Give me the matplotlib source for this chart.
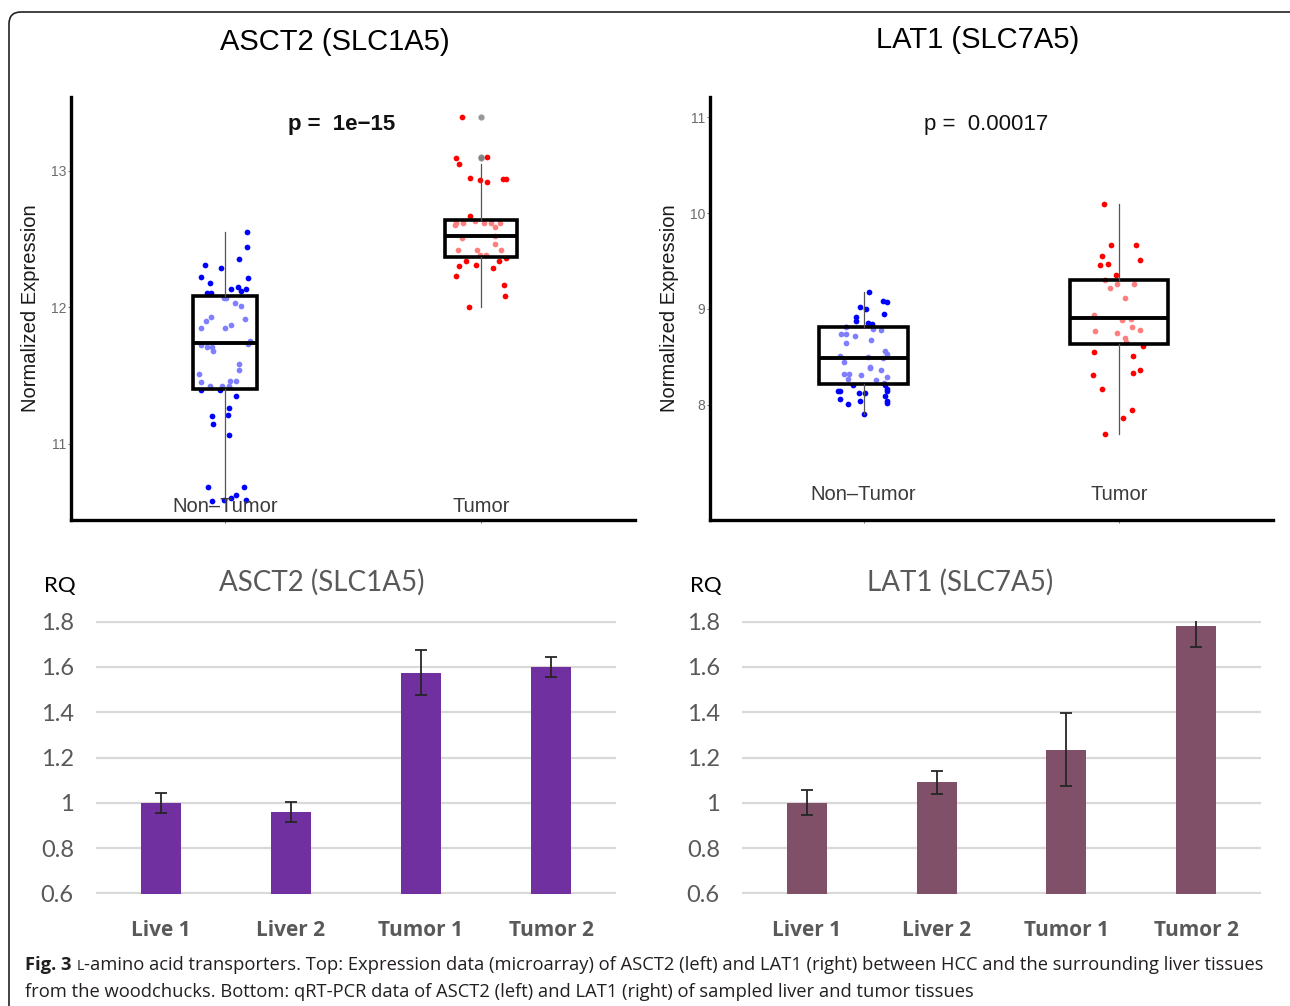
import matplotlib
matplotlib.use("Agg")
import matplotlib.pyplot as plt
from matplotlib import font_manager
from matplotlib.patches import FancyBboxPatch
from matplotlib.transforms import IdentityTransform, blended_transform_factory


def pick_font(names):
    for n in names:
        try:
            font_manager.findfont(n, fallback_to_default=False)
            return n
        except Exception:
            pass
    return "DejaVu Sans"


SANS = pick_font(["Liberation Sans", "Arial", "DejaVu Sans"])
NARROW = pick_font(["Liberation Sans Narrow", "Liberation Sans"])
XLS = pick_font(["Lato", "Open Sans", "DejaVu Sans"])
CAP = pick_font(["Open Sans", "Lato", "DejaVu Sans"])

# ---- microarray data, ASCT2 (SLC1A5) ----
asct2_nt = [12.55, 12.44, 12.35, 12.31, 12.29, 12.22, 12.21, 12.18, 12.15, 12.13,
            12.13, 12.12, 12.10, 12.10, 12.07, 12.07, 12.03, 12.01, 11.93, 11.90,
            11.91, 11.85, 11.87, 11.85, 11.75, 11.73, 11.72, 11.71, 11.71, 11.68,
            11.58, 11.54, 11.51, 11.45, 11.46, 11.46, 11.42, 11.42, 11.42, 11.39,
            11.39, 11.35, 11.26, 11.21, 11.20, 11.14, 11.06, 10.68, 10.68, 10.62,
            10.60, 10.58, 10.59, 10.59]
asct2_nt_dx = [0.087, 0.087, 0.055, -0.078, -0.013, -0.094, 0.091, -0.057, 0.052, 0.023,
               0.084, 0.065, -0.070, -0.053, -0.005, 0.003, 0.040, 0.065, -0.055, -0.075,
               0.079, -0.091, 0.023, 0.0, 0.099, 0.089, -0.091, -0.070, -0.049, -0.045,
               0.057, 0.057, -0.099, -0.094, 0.019, 0.044, -0.058, -0.010, 0.016, -0.094,
               -0.018, 0.044, 0.016, 0.011, -0.050, -0.045, 0.016, -0.066, 0.076, 0.044,
               0.024, -0.049, 0.081, -0.005]
asct2_t = [13.39, 13.09, 13.10, 13.05, 12.95, 12.93, 12.92, 12.94, 12.94, 12.67,
           12.62, 12.62, 12.63, 12.62, 12.62, 12.59, 12.62, 12.60, 12.52, 12.51,
           12.42, 12.42, 12.46, 12.38, 12.38, 12.42, 12.36, 12.34, 12.31, 12.30,
           12.29, 12.34, 12.23, 12.16, 12.08, 12.00]
asct2_t_dx = [-0.075, -0.097, 0.021, -0.086, -0.042, -0.005, 0.021, 0.086, 0.097, -0.045,
              -0.097, -0.070, -0.024, 0.011, 0.037, 0.053, 0.073, -0.102, 0.053, -0.076,
              -0.091, -0.016, 0.053, -0.005, 0.019, 0.076, 0.097, -0.060, -0.021, -0.086,
              0.045, 0.070, -0.097, 0.089, 0.094, -0.049]
asct2_q1 = [11.40, 12.37]
asct2_med = [11.74, 12.52]
asct2_q3 = [12.08, 12.64]
asct2_lo = [10.58, 12.00]
asct2_hi = [12.55, 13.05]
asct2_out = [[], [13.39, 13.09, 13.10]]

# ---- microarray data, LAT1 (SLC7A5) ----
lat1_nt = [9.18, 9.08, 9.07, 9.02, 9.00, 8.95, 8.92, 8.87, 8.85, 8.84,
           8.81, 8.79, 8.78, 8.74, 8.74, 8.72, 8.68, 8.65, 8.56, 8.53,
           8.51, 8.50, 8.49, 8.45, 8.40, 8.38, 8.36, 8.32, 8.32, 8.31,
           8.27, 8.29, 8.26, 8.23, 8.21, 8.21, 8.17, 8.15, 8.15, 8.15,
           8.12, 8.12, 8.09, 8.06, 8.04, 8.04, 8.02, 8.01, 7.90]
lat1_nt_dx = [0.021, 0.077, 0.093, -0.013, 0.008, 0.080, -0.029, -0.029, 0.019, 0.032,
              -0.069, 0.037, 0.067, -0.088, -0.067, -0.032, 0.029, -0.067, 0.085, 0.093,
              -0.093, 0.019, 0.075, -0.075, 0.027, 0.024, 0.069, -0.077, -0.056, -0.008,
              -0.061, 0.093, 0.049, 0.080, -0.043, 0.083, 0.093, -0.100, -0.093, 0.093,
              -0.016, 0.005, 0.085, -0.093, -0.013, 0.093, 0.093, -0.061, 0.0]
lat1_t = [10.09, 9.67, 9.67, 9.55, 9.51, 9.46, 9.47, 9.35, 9.30, 9.26,
          9.22, 9.26, 9.11, 8.94, 8.90, 8.89, 8.77, 8.75, 8.81, 8.78,
          8.70, 8.66, 8.61, 8.55, 8.51, 8.31, 8.33, 8.36, 8.17, 7.95,
          7.86, 7.70]
lat1_t_dx = [-0.059, -0.032, 0.064, -0.070, 0.081, -0.075, -0.046, -0.014, -0.056, -0.011,
             -0.035, 0.057, 0.021, -0.099, 0.045, 0.008, -0.096, -0.011, 0.048, 0.081,
             0.021, 0.026, 0.093, -0.099, 0.053, -0.104, 0.053, 0.081, -0.067, 0.048,
             0.013, -0.056]
lat1_q1 = [8.22, 8.63]
lat1_med = [8.49, 8.91]
lat1_q3 = [8.81, 9.30]
lat1_lo = [7.90, 7.70]
lat1_hi = [9.18, 10.09]
lat1_out = [[], []]

groups = ["Non\u2013Tumor", "Tumor"]

# ---- qRT-PCR data ----
asct2_samples = ["Live 1", "Liver 2", "Tumor 1", "Tumor 2"]
asct2_rq = [1.00, 0.96, 1.575, 1.60]
asct2_err = [0.043, 0.043, 0.10, 0.043]

lat1_samples = ["Liver 1", "Liver 2", "Tumor 1", "Tumor 2"]
lat1_rq = [1.00, 1.09, 1.235, 1.78]
lat1_err = [0.055, 0.05, 0.163, 0.09]

W, H = 1290, 1006
fig = plt.figure(figsize=(W / 100, H / 100), dpi=100)


def rect(l, t, r, b):
    return [l / W, 1 - b / H, (r - l) / W, (b - t) / H]


def box_panel(ax, nt, nt_dx, t, t_dx, q1, med, q3, lo, hi, out, ylim, yticks,
              widths, ptext, pbold, lab_y):
    ax.scatter([1 + d for d in nt_dx], nt, s=17, color="#0000FF", lw=0, zorder=2)
    ax.scatter([2 + d for d in t_dx], t, s=17, color="#FF0000", lw=0, zorder=2)
    stats = []
    for i in range(2):
        stats.append(dict(q1=q1[i], med=med[i], q3=q3[i], whislo=lo[i],
                          whishi=hi[i], fliers=out[i]))
    ax.bxp(stats, positions=[1, 2], widths=widths, patch_artist=True,
           showcaps=False, zorder=3,
           boxprops=dict(facecolor=(1, 1, 1, 0.5), edgecolor="black", linewidth=2.6),
           whiskerprops=dict(color="#555555", linewidth=0.9),
           medianprops=dict(color="black", linewidth=2.8),
           flierprops=dict(marker="o", markerfacecolor="#7f7f7f",
                           markeredgecolor="none", markersize=4.5, alpha=0.8))
    ax.set_xlim(0.4, 2.6)
    ax.set_ylim(*ylim)
    ax.set_yticks(yticks)
    ax.set_yticklabels([str(v) for v in yticks], fontfamily=NARROW)
    ax.set_xticks([1, 2])
    ax.set_xticklabels([])
    for s in ["top", "right"]:
        ax.spines[s].set_visible(False)
    for s in ["left", "bottom"]:
        ax.spines[s].set_linewidth(2.4)
    ax.tick_params(axis="y", length=2.5, width=0.7, color="#777777",
                   labelsize=10, labelcolor="#6b6b6b", pad=1)
    ax.tick_params(axis="x", length=2.5, width=0.7, color="#777777")
    ax.set_ylabel("Normalized Expression", fontsize=14.5, fontfamily=SANS,
                  color="#1a1a1a", labelpad=8)
    tr = blended_transform_factory(ax.transData, ax.transAxes)
    for i, g in enumerate(groups):
        ax.text(i + 1, lab_y, g, transform=tr, ha="center", va="center",
                fontsize=14.5, fontfamily=NARROW, color="#3a3a3a")
    ax.text(ptext, 0.934, pbold[0], transform=ax.transAxes, ha="center",
            va="center", fontsize=16, fontfamily=SANS,
            fontweight=pbold[1], color="#111111")


ax1 = fig.add_axes(rect(71, 97, 635, 520))
box_panel(ax1, asct2_nt, asct2_nt_dx, asct2_t, asct2_t_dx, asct2_q1, asct2_med,
          asct2_q3, asct2_lo, asct2_hi, asct2_out, (10.44, 13.54), [11, 12, 13],
          [0.25, 0.28], 0.479, ("p =  1e\u221215", "bold"), 0.031)

ax2 = fig.add_axes(rect(710, 97, 1273, 520))
box_panel(ax2, lat1_nt, lat1_nt_dx, lat1_t, lat1_t_dx, lat1_q1, lat1_med,
          lat1_q3, lat1_lo, lat1_hi, lat1_out, (6.80, 11.21), [8, 9, 10, 11],
          [0.345, 0.383], 0.49, ("p =  0.00017", "normal"), 0.061)

fig.text(335 / W, 1 - 42 / H, "ASCT2 (SLC1A5)", ha="center", va="center",
         fontsize=21, fontfamily=SANS, color="black")
fig.text(978 / W, 1 - 40 / H, "LAT1 (SLC7A5)", ha="center", va="center",
         fontsize=21, fontfamily=SANS, color="black")


def bar_panel(ax, samples, rq, err, color, title, title_x):
    x = range(len(samples))
    ax.bar(x, rq, width=0.31, color=color, zorder=2, yerr=err, capsize=4,
           error_kw=dict(ecolor="#262626", elinewidth=1.3, capthick=1.3))
    ax.set_xlim(-0.5, 3.5)
    ax.set_ylim(0.597, 1.803)
    yt = [0.6, 0.8, 1.0, 1.2, 1.4, 1.6, 1.8]
    ax.set_yticks(yt)
    ax.set_yticklabels([f"{v:g}" for v in yt], fontfamily=XLS)
    ax.set_xticks(list(x))
    ax.set_xticklabels(samples, fontfamily=CAP, fontweight="bold")
    ax.grid(axis="y", color="#d9d9d9", linewidth=1.6)
    ax.set_axisbelow(True)
    for s in ax.spines.values():
        s.set_visible(False)
    ax.tick_params(axis="y", length=0, labelsize=17, labelcolor="#595959", pad=16)
    ax.tick_params(axis="x", length=0, labelsize=15, labelcolor="#595959", pad=19)
    ax.text(title_x, 1.143, title, transform=ax.transAxes, ha="center", va="center",
            fontsize=20, fontfamily=XLS, color="#595959")
    ax.text(-0.069, 1.13, "RQ", transform=ax.transAxes, ha="center", va="center",
            fontsize=16, fontfamily=XLS, color="black")


ax3 = fig.add_axes(rect(96, 621, 616, 894))
bar_panel(ax3, asct2_samples, asct2_rq, asct2_err, "#7030a0", "ASCT2 (SLC1A5)", 0.435)

ax4 = fig.add_axes(rect(742, 621, 1261, 894))
bar_panel(ax4, lat1_samples, lat1_rq, lat1_err, "#804f68", "LAT1 (SLC7A5)", 0.42)

# rounded frame around the figure
frame = FancyBboxPatch((9, -40), 1300, 1006 - 12 + 40,
                       boxstyle="round,pad=0,rounding_size=12",
                       transform=IdentityTransform(), fill=False,
                       edgecolor="#222222", linewidth=1.2)
fig.patches.append(frame)

# caption
cap_size = 13.2
t1 = fig.text(25 / W, 1 - 965 / H, "Fig. 3 ", fontsize=cap_size, fontfamily=CAP,
              fontweight="bold", color="#231f20", va="center")
t2 = ax3.annotate("L", xy=(1, 0), xycoords=t1, va="bottom", ha="left",
                  fontsize=cap_size * 0.78, fontfamily=CAP, color="#231f20",
                  annotation_clip=False)
ax3.annotate("-amino acid transporters. Top: Expression data (microarray) of ASCT2 (left) "
             "and LAT1 (right) between HCC and the surrounding liver tissues",
             xy=(1, 0), xycoords=t2, va="bottom", ha="left", fontsize=cap_size,
             fontfamily=CAP, color="#231f20", annotation_clip=False)
fig.text(25 / W, 1 - 992 / H,
         "from the woodchucks. Bottom: qRT-PCR data of ASCT2 (left) and LAT1 (right) "
         "of sampled liver and tumor tissues",
         fontsize=cap_size, fontfamily=CAP, color="#231f20", va="center")

fig.savefig("out.png", dpi=100)
